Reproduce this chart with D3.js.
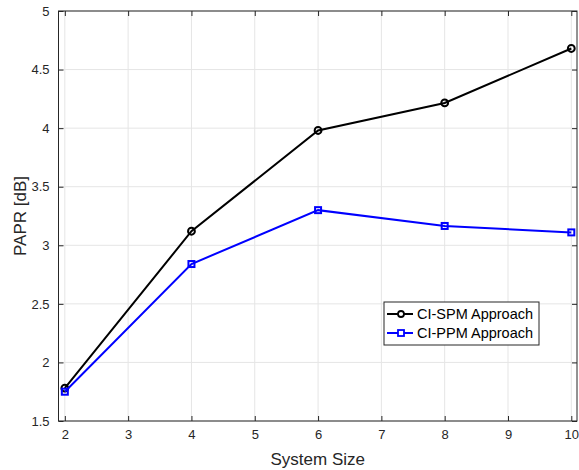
<!DOCTYPE html>
<html>
<head>
  <meta charset="utf-8">
  <script src="https://cdn.jsdelivr.net/npm/d3@7"></script>
  <style>
    body { margin: 0; background: #fff; }
    svg { font-family: "Liberation Sans", Arial, sans-serif; }
  </style>
</head>
<body>
<script>
  // chart data
  var systemSize = [2, 4, 6, 8, 10];
  var spmValues = [1.78, 3.12, 3.98, 4.215, 4.68];
  var ppmValues = [1.75, 2.84, 3.30, 3.165, 3.11];
  var xTicks = [2, 3, 4, 5, 6, 7, 8, 9, 10];
  var yTicks = [1.5, 2, 2.5, 3, 3.5, 4, 4.5, 5];
  var seriesNames = ["CI-SPM Approach", "CI-PPM Approach"];

  var W = 579, H = 470;
  var pLeft = 58.5, pRight = 577, pTop = 11, pBottom = 421;

  var svg = d3.select("body").append("svg").attr("width", W).attr("height", H);

  var x = d3.scaleLinear().domain([1.9, 10.09]).range([pLeft, pRight]);
  var y = d3.scaleLinear().domain([1.5, 5]).range([pBottom, pTop]);

  var axisCol = "#262626";

  // grid
  svg.append("g").selectAll("line").data(xTicks).enter().append("line")
    .attr("x1", d => x(d)).attr("x2", d => x(d))
    .attr("y1", pTop).attr("y2", pBottom)
    .attr("stroke", "#e5e5e5").attr("stroke-width", 1);
  svg.append("g").selectAll("line").data(yTicks).enter().append("line")
    .attr("x1", pLeft).attr("x2", pRight)
    .attr("y1", d => y(d)).attr("y2", d => y(d))
    .attr("stroke", "#e5e5e5").attr("stroke-width", 1);

  // axes
  var xAxis = d3.axisBottom(x).tickValues(xTicks).tickSize(-5).tickPadding(9).tickFormat(d3.format("d"));
  var yAxis = d3.axisLeft(y).tickValues(yTicks).tickSize(-5).tickPadding(9).tickFormat(d3.format("~g"));
  var xTopAxis = d3.axisTop(x).tickValues(xTicks).tickSize(-5).tickFormat("");
  var yRightAxis = d3.axisRight(y).tickValues(yTicks).tickSize(-5).tickFormat("");

  [[xAxis, "translate(0," + pBottom + ")"], [yAxis, "translate(" + pLeft + ",0)"],
   [xTopAxis, "translate(0," + pTop + ")"], [yRightAxis, "translate(" + pRight + ",0)"]].forEach(function(a) {
    var g = svg.append("g").attr("transform", a[1]).call(a[0]);
    g.select(".domain").remove();
    g.selectAll("line").attr("stroke", axisCol);
    g.selectAll("text").attr("fill", axisCol).style("font-size", "13px");
  });
  svg.append("rect").attr("x", pLeft).attr("y", pTop)
    .attr("width", pRight - pLeft).attr("height", pBottom - pTop)
    .attr("fill", "none").attr("stroke", axisCol).attr("stroke-width", 1);

  // labels
  svg.append("text").attr("x", (pLeft + pRight) / 2).attr("y", 465)
    .attr("text-anchor", "middle").attr("fill", axisCol).style("font-size", "17px")
    .text("System Size");
  svg.append("text").attr("transform", "translate(26," + ((pTop + pBottom) / 2) + ") rotate(-90)")
    .attr("text-anchor", "middle").attr("fill", axisCol).style("font-size", "17px")
    .text("PAPR [dB]");

  var line = d3.line().x(d => x(d[0])).y(d => y(d[1]));

  // SPM series
  var spm = systemSize.map((s, i) => [s, spmValues[i]]);
  svg.append("path").datum(spm).attr("d", line)
    .attr("fill", "none").attr("stroke", "#000").attr("stroke-width", 2);
  svg.append("g").selectAll("circle").data(spm).enter().append("circle")
    .attr("cx", d => x(d[0])).attr("cy", d => y(d[1])).attr("r", 3.4)
    .attr("fill", "none").attr("stroke", "#000").attr("stroke-width", 2);

  // PPM series
  var ppm = systemSize.map((s, i) => [s, ppmValues[i]]);
  svg.append("path").datum(ppm).attr("d", line)
    .attr("fill", "none").attr("stroke", "#0000ff").attr("stroke-width", 2);
  svg.append("g").selectAll("rect").data(ppm).enter().append("rect")
    .attr("x", d => x(d[0]) - 3).attr("y", d => y(d[1]) - 3)
    .attr("width", 6).attr("height", 6)
    .attr("fill", "none").attr("stroke", "#0000ff").attr("stroke-width", 2);

  // legend
  var lg = svg.append("g").attr("transform", "translate(384,302)");
  lg.append("rect").attr("width", 155).attr("height", 43)
    .attr("fill", "#fff").attr("stroke", axisCol).attr("stroke-width", 1);
  var colors = ["#000", "#0000ff"];
  seriesNames.forEach(function(name, i) {
    var cy = 12 + i * 19;
    lg.append("line").attr("x1", 3).attr("x2", 29).attr("y1", cy).attr("y2", cy)
      .attr("stroke", colors[i]).attr("stroke-width", 2);
    if (i === 0) {
      lg.append("circle").attr("cx", 17).attr("cy", cy).attr("r", 3)
        .attr("fill", "#fff").attr("stroke", colors[i]).attr("stroke-width", 1.8);
    } else {
      lg.append("rect").attr("x", 14).attr("y", cy - 3).attr("width", 6).attr("height", 6)
        .attr("fill", "#fff").attr("stroke", colors[i]).attr("stroke-width", 1.8);
    }
    lg.append("text").attr("x", 33).attr("y", cy + 5).attr("fill", "#000")
      .style("font-size", "14.5px").text(name);
  });
</script>
</body>
</html>
